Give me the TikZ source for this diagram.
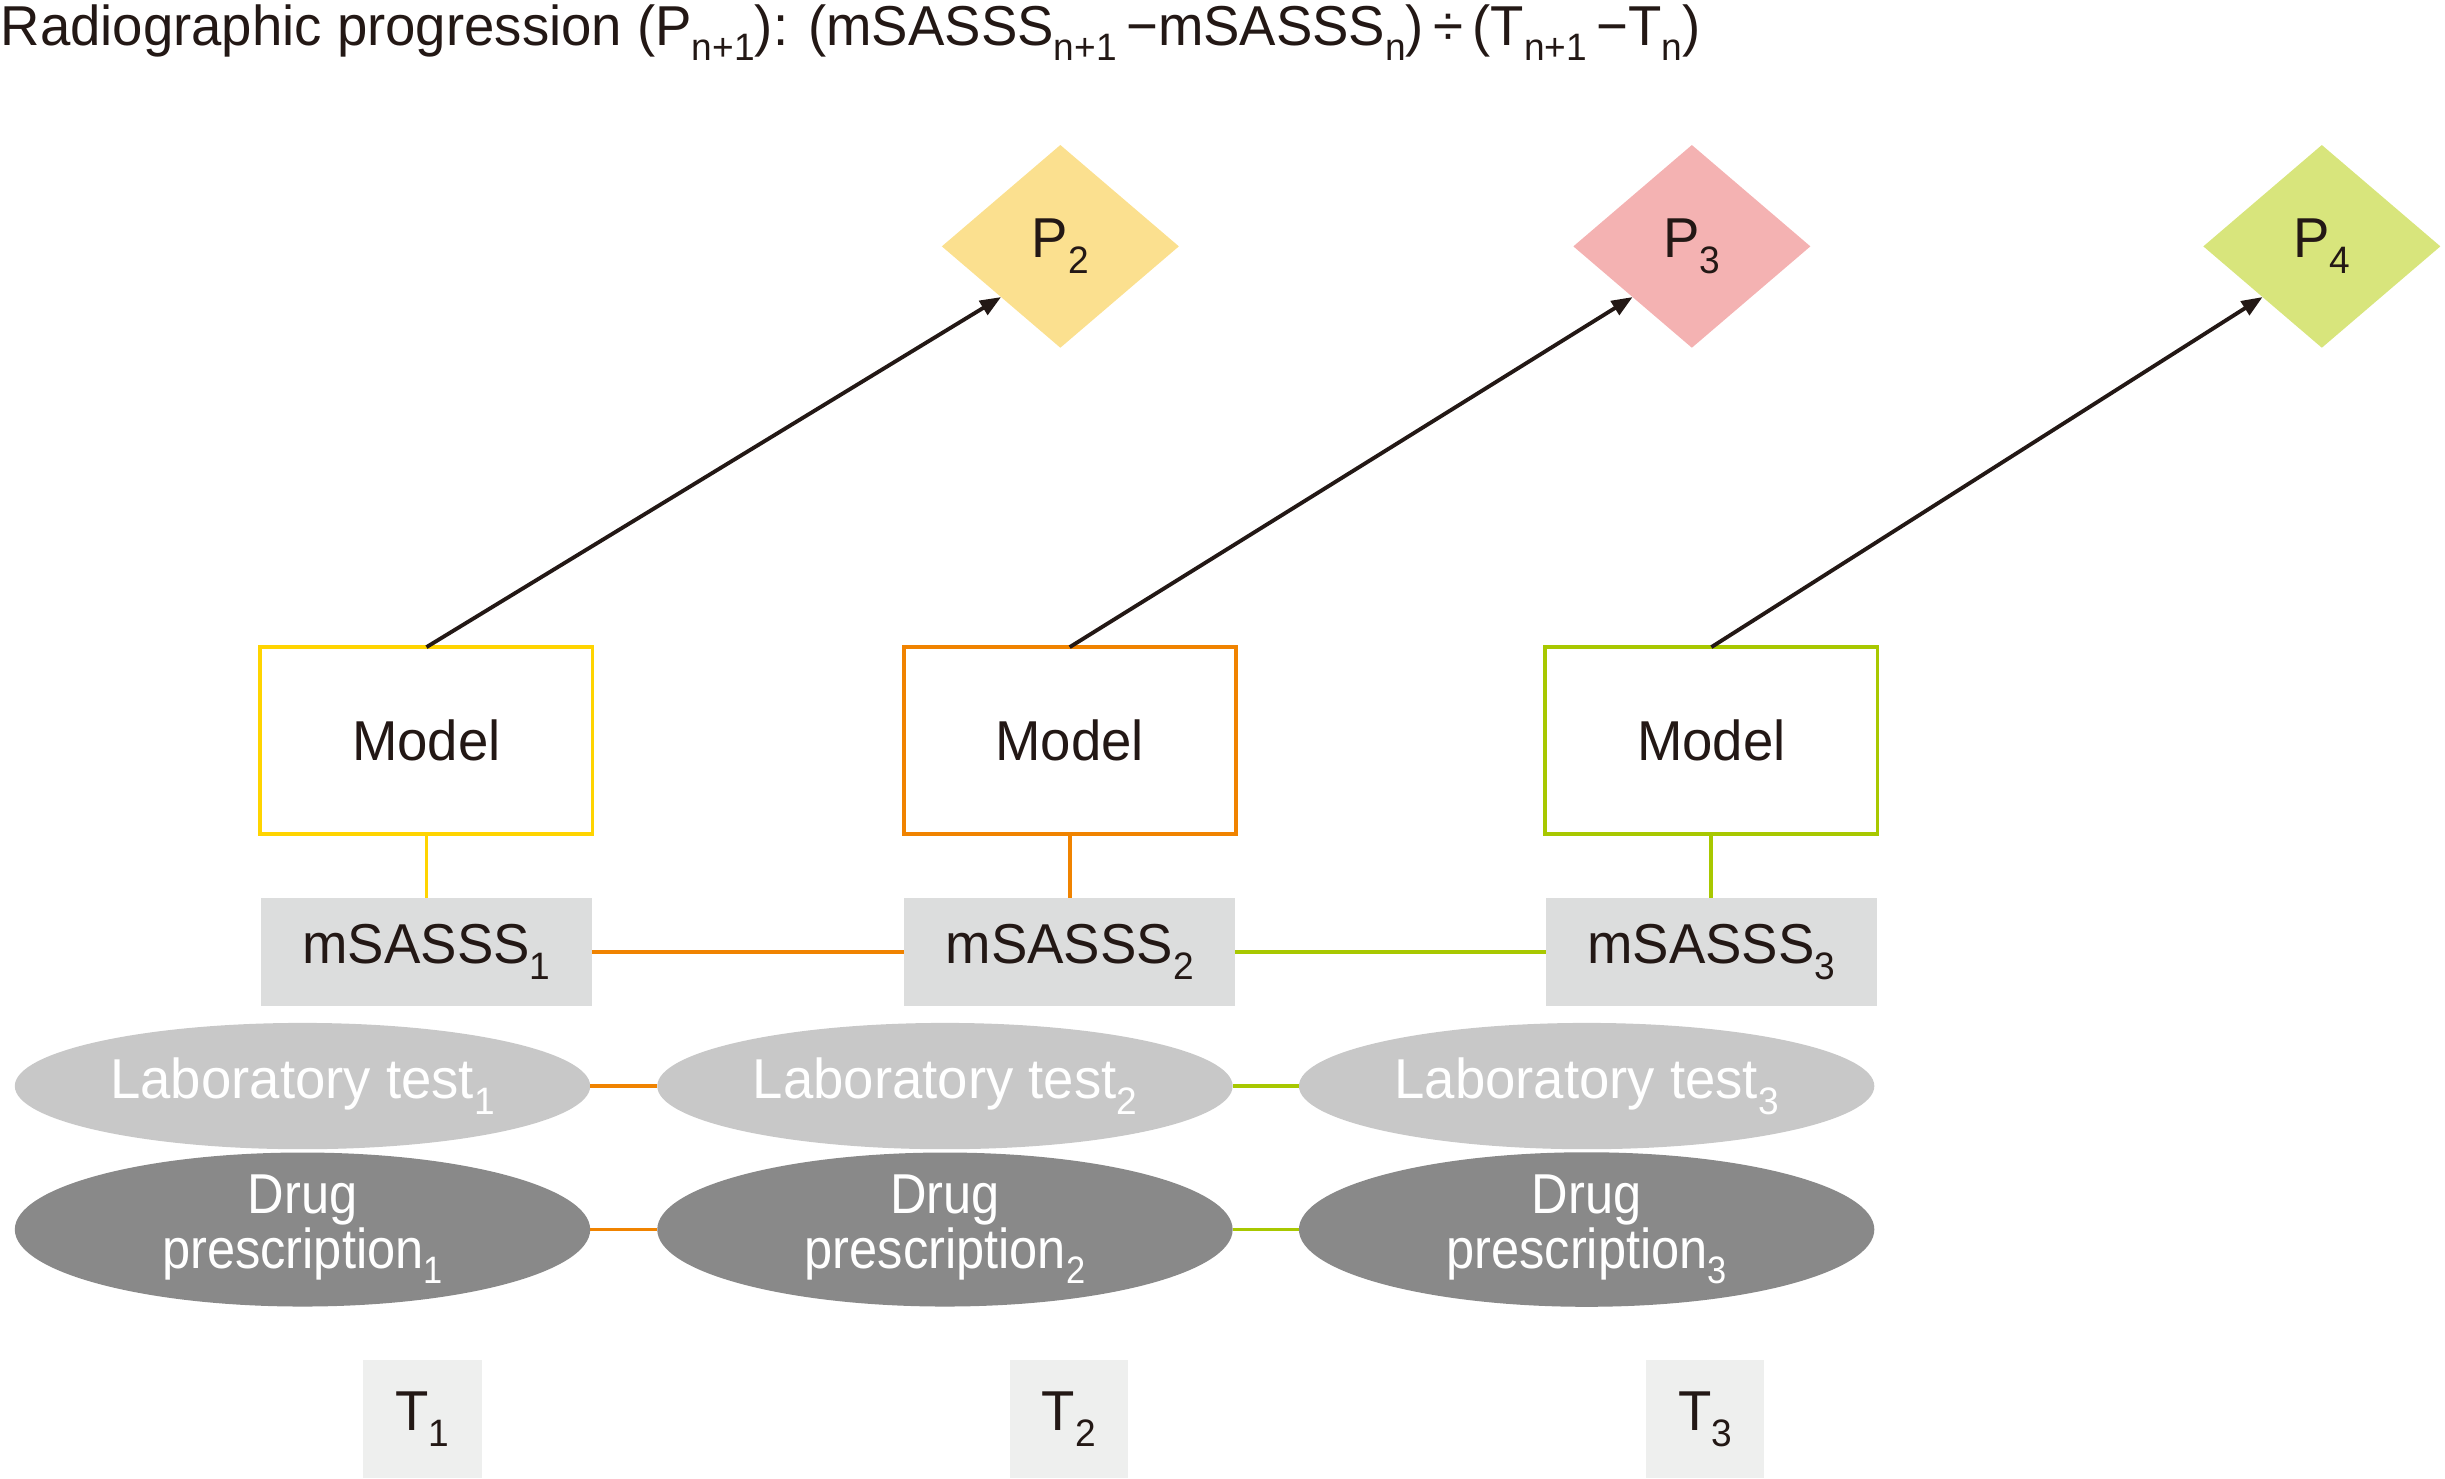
\documentclass[tikz,border=0pt]{standalone}
\usepackage{fontspec}
\setmainfont[FakeStretch=0.97]{Liberation Sans}
\newfontfamily\narrowf[FakeStretch=0.9]{Liberation Sans}
\usetikzlibrary{shapes.geometric,arrows.meta}
\newlength\pu
\setlength\pu{0.015593cm}
\newcommand\sub[1]{\raisebox{-0.28em}{\scalebox{0.68}{#1}}}
\definecolor{ink}{RGB}{35,24,21}
\definecolor{cyel}{RGB}{255,212,0}
\definecolor{cora}{RGB}{240,131,0}
\definecolor{cgrn}{RGB}{168,200,0}
\definecolor{pyel}{RGB}{251,224,143}
\definecolor{ppnk}{RGB}{244,178,178}
\definecolor{pgrn}{RGB}{216,229,124}
\definecolor{scoregray}{RGB}{220,221,221}
\definecolor{labgray}{RGB}{200,200,200}
\definecolor{druggray}{RGB}{137,137,137}
\definecolor{tgray}{RGB}{238,239,238}
\begin{document}
\begin{tikzpicture}[x=0.015593cm,y=-0.015593cm,
  every node/.style={font=\fontsize{16}{15.5}\selectfont, text=ink},
  modelbox/.style={draw=#1, line width=1.1pt, fill=white, minimum width=213\pu, minimum height=120\pu, inner sep=0pt, outer sep=0pt},
  scorebox/.style={fill=scoregray, minimum width=212\pu, minimum height=69\pu, inner sep=0pt, outer sep=0pt},
  labell/.style={ellipse, fill=labgray, text=white, minimum width=369\pu, minimum height=81\pu, inner sep=0pt, outer sep=0pt},
  drugell/.style={ellipse, fill=druggray, text=white, align=center, font=\narrowf\fontsize{16}{15.5}\selectfont, minimum width=369\pu, minimum height=81\pu, inner sep=0pt, outer sep=0pt},
  tbox/.style={fill=tgray, minimum width=76\pu, minimum height=76\pu, inner sep=0pt, outer sep=0pt},
  pdiam/.style={diamond, fill=#1, minimum width=152\pu, minimum height=130\pu, inner sep=0pt, outer sep=0pt},
  conn/.style={line width=1.1pt, draw=#1},
  arr/.style={line width=1.1pt, draw=ink, -{Triangle[length=0.21cm, width=0.16cm]}}
]
\useasboundingbox (0,0) rectangle (1568,948);

\node[anchor=base west, inner sep=0pt] (title) at (0,28.9)
  {Radiographic progression (P\sub{n+1}): (mSASSS\sub{n+1}\,−mSASSS\sub{n})\,÷\,(T\sub{n+1}\,−T\sub{n})};

% diamonds
\node[pdiam=pyel] (p2) at (680,158) {P\sub{2}};
\node[pdiam=ppnk] (p3) at (1085,158) {P\sub{3}};
\node[pdiam=pgrn] (p4) at (1489,158) {P\sub{4}};

% model boxes
\node[modelbox=cyel] (m1) at (273.5,475) {Model};
\node[modelbox=cora] (m2) at (686,475) {Model};
\node[modelbox=cgrn] (m3) at (1097.5,475) {Model};

% score boxes
\node[scorebox] (s1) at (273.5,610.5) {mSASSS\sub{1}};
\node[scorebox] (s2) at (686,610.5) {mSASSS\sub{2}};
\node[scorebox] (s3) at (1097.5,610.5) {mSASSS\sub{3}};

% laboratory ellipses
\node[labell] (l1) at (194,696.5) {Laboratory test\sub{1}};
\node[labell] (l2) at (606,696.5) {Laboratory test\sub{2}};
\node[labell] (l3) at (1017.5,696.5) {Laboratory test\sub{3}};

% drug ellipses
\node[drugell] (d1) at (194,788.5) {Drug\\prescription\sub{1}};
\node[drugell] (d2) at (606,788.5) {Drug\\prescription\sub{2}};
\node[drugell] (d3) at (1017.5,788.5) {Drug\\prescription\sub{3}};

% time boxes
\node[tbox] (t1) at (271,910) {T\sub{1}};
\node[tbox] (t2) at (685.5,910) {T\sub{2}};
\node[tbox] (t3) at (1093.5,910) {T\sub{3}};

% connectors
\draw[conn=cyel] (m1) -- (s1);
\draw[conn=cora] (m2) -- (s2);
\draw[conn=cgrn] (m3) -- (s3);
\draw[conn=cora] (s1) -- (s2);
\draw[conn=cgrn] (s2) -- (s3);
\draw[conn=cora] (l1) -- (l2);
\draw[conn=cgrn] (l2) -- (l3);
\draw[conn=cora] (d1) -- (d2);
\draw[conn=cgrn] (d2) -- (d3);

% arrows
\draw[arr] (m1.north) -- (p2.south west);
\draw[arr] (m2.north) -- (p3.south west);
\draw[arr] (m3.north) -- (p4.south west);
\end{tikzpicture}
\end{document}
